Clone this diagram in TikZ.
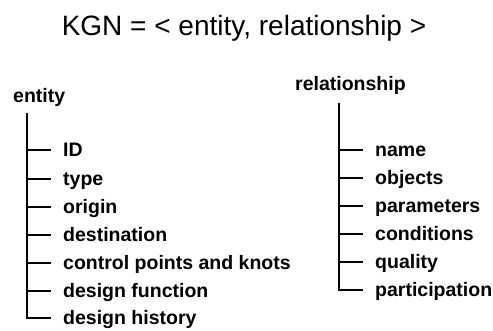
\documentclass[tikz,border=0pt]{standalone}
\usepackage{fontspec}
\setmainfont{Liberation Sans}
\usetikzlibrary{calc}

\tikzset{
  head/.style={inner sep=0pt, anchor=base west, font=\fontsize{19.5}{22}\selectfont\bfseries},
  item/.style={inner sep=0pt, anchor=base west, font=\fontsize{19.5}{22}\selectfont\bfseries},
  branch/.style={line width=2.2pt}
}

\begin{document}
\begin{tikzpicture}[x=1pt, y=-1pt]
      \useasboundingbox (0,0) rectangle (493,330);

      \node[anchor=base, inner sep=0pt, font=\fontsize{28}{32}\selectfont] (kgn) at (244,35) {KGN = < entity, relationship >};

      % entity branch
      \node[head] (ent) at (13,102) {entity};
      \coordinate (etop) at (27,113);
      \node[item] (e1) at (63,156) {ID};
      \node[item] (e2) at (63,185) {type};
      \node[item] (e3) at (63,213) {origin};
      \node[item] (e4) at (63,241) {destination};
      \node[item] (e5) at (63,269) {control points and knots};
      \node[item] (e6) at (63,297) {design function};
      \node[item] (e7) at (63,324) {design history};

      \draw[branch] (etop) |- ([xshift=-12pt,yshift=6pt]e7.base west);
      \draw[branch] (etop |- e1.base west) ++(0,-6) -- ([xshift=-12pt,yshift=6pt]e1.base west);
      \draw[branch] (etop |- e2.base west) ++(0,-6) -- ([xshift=-12pt,yshift=6pt]e2.base west);
      \draw[branch] (etop |- e3.base west) ++(0,-6) -- ([xshift=-12pt,yshift=6pt]e3.base west);
      \draw[branch] (etop |- e4.base west) ++(0,-6) -- ([xshift=-12pt,yshift=6pt]e4.base west);
      \draw[branch] (etop |- e5.base west) ++(0,-6) -- ([xshift=-12pt,yshift=6pt]e5.base west);
      \draw[branch] (etop |- e6.base west) ++(0,-6) -- ([xshift=-12pt,yshift=6pt]e6.base west);

      % relationship branch
      \node[head] (rel) at (295,90) {relationship};
      \coordinate (rtop) at (339,103);
      \node[item] (r1) at (375,156) {name};
      \node[item] (r2) at (375,184) {objects};
      \node[item] (r3) at (375,212) {parameters};
      \node[item] (r4) at (375,240) {conditions};
      \node[item] (r5) at (375,268) {quality};
      \node[item] (r6) at (375,296) {participation};

      \draw[branch] (rtop) |- ([xshift=-12pt,yshift=6pt]r6.base west);
      \draw[branch] (rtop |- r1.base west) ++(0,-6) -- ([xshift=-12pt,yshift=6pt]r1.base west);
      \draw[branch] (rtop |- r2.base west) ++(0,-6) -- ([xshift=-12pt,yshift=6pt]r2.base west);
      \draw[branch] (rtop |- r3.base west) ++(0,-6) -- ([xshift=-12pt,yshift=6pt]r3.base west);
      \draw[branch] (rtop |- r4.base west) ++(0,-6) -- ([xshift=-12pt,yshift=6pt]r4.base west);
      \draw[branch] (rtop |- r5.base west) ++(0,-6) -- ([xshift=-12pt,yshift=6pt]r5.base west);
    \end{tikzpicture}
\end{document}
